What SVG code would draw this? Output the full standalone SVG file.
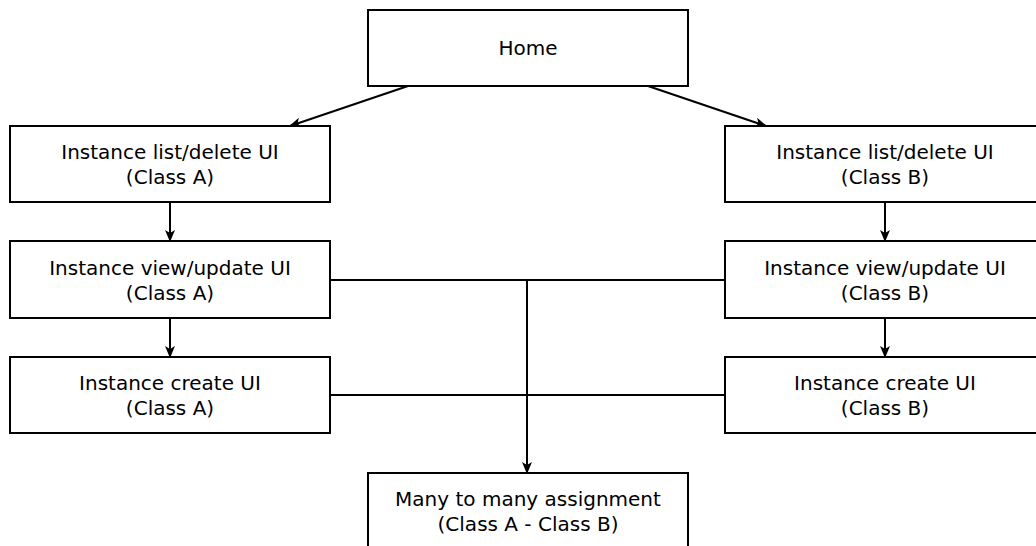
<svg xmlns="http://www.w3.org/2000/svg" width="1036" height="546" viewBox="0 0 1036 546">
<defs>
<style>
.box{fill:#fff;stroke:#000;stroke-width:2}
.t{font-family:"DejaVu Sans","Liberation Sans",sans-serif;font-size:20px;fill:#000;text-anchor:middle}
.c{fill:none;stroke:#000;stroke-width:2}
</style>
<marker id="ah" viewBox="0 0 12 10" refX="11" refY="5" markerWidth="12" markerHeight="10" markerUnits="userSpaceOnUse" orient="auto">
<path d="M0,0 L12,5 L0,10 L3,5 Z" fill="#000"/>
</marker>
</defs>
<rect width="1036" height="546" fill="#fff"/>
<g id="connectors">
<line class="c" x1="408" y1="86" x2="290" y2="126" marker-end="url(#ah)"/>
<line class="c" x1="648" y1="86" x2="766" y2="126" marker-end="url(#ah)"/>
<line class="c" x1="170" y1="202" x2="170" y2="241" marker-end="url(#ah)"/>
<line class="c" x1="170" y1="318" x2="170" y2="357" marker-end="url(#ah)"/>
<line class="c" x1="885" y1="202" x2="885" y2="241" marker-end="url(#ah)"/>
<line class="c" x1="885" y1="318" x2="885" y2="357" marker-end="url(#ah)"/>
<line class="c" x1="330" y1="280" x2="725" y2="280"/>
<line class="c" x1="330" y1="395" x2="725" y2="395"/>
<line class="c" x1="527" y1="280" x2="527" y2="473" marker-end="url(#ah)"/>
</g>
<g id="home"><rect class="box" x="368" y="10" width="320" height="76"/><text class="t" x="528" y="55">Home</text></g>
<g id="listA"><rect class="box" x="10" y="126" width="320" height="76"/><text class="t" x="170" y="159">Instance list/delete UI</text><text class="t" x="170" y="184">(Class A)</text></g>
<g id="viewA"><rect class="box" x="10" y="241" width="320" height="77"/><text class="t" x="170" y="275">Instance view/update UI</text><text class="t" x="170" y="300">(Class A)</text></g>
<g id="createA"><rect class="box" x="10" y="357" width="320" height="76"/><text class="t" x="170" y="390">Instance create UI</text><text class="t" x="170" y="415">(Class A)</text></g>
<g id="listB"><rect class="box" x="725" y="126" width="320" height="76"/><text class="t" x="885" y="159">Instance list/delete UI</text><text class="t" x="885" y="184">(Class B)</text></g>
<g id="viewB"><rect class="box" x="725" y="241" width="320" height="77"/><text class="t" x="885" y="275">Instance view/update UI</text><text class="t" x="885" y="300">(Class B)</text></g>
<g id="createB"><rect class="box" x="725" y="357" width="320" height="76"/><text class="t" x="885" y="390">Instance create UI</text><text class="t" x="885" y="415">(Class B)</text></g>
<g id="many"><rect class="box" x="368" y="473" width="320" height="80"/><text class="t" x="528" y="506">Many to many assignment</text><text class="t" x="528" y="531">(Class A - Class B)</text></g>
</svg>
